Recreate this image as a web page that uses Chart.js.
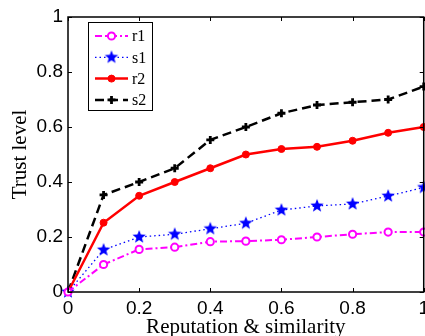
<!DOCTYPE html>
<html>
<head>
<meta charset="utf-8">
<script src="https://cdn.jsdelivr.net/npm/chart.js@4.4.1/dist/chart.umd.min.js"></script>
<style>
  html, body { margin: 0; padding: 0; background: #fff; overflow: hidden; }
  body { width: 425px; height: 336px; }
  /* plot box runs past the right and bottom edges, as in the reference */
  #wrap { width: 434px; height: 340px; position: relative; }
</style>
</head>
<body>
<div id="wrap"><canvas id="chart"></canvas></div>
<script>
// ── DATA ────────────────────────────────────────────────
const xValues = [0, 0.1, 0.2, 0.3, 0.4, 0.5, 0.6, 0.7, 0.8, 0.9, 1];
const r1 = [0, 0.10, 0.155, 0.163, 0.183, 0.185, 0.19, 0.20, 0.21, 0.218, 0.218];
const s1 = [0, 0.153, 0.20, 0.21, 0.23, 0.25, 0.298, 0.313, 0.32, 0.349, 0.38];
const r2 = [0, 0.252, 0.35, 0.40, 0.45, 0.50, 0.52, 0.528, 0.55, 0.579, 0.60];
const s2 = [0, 0.353, 0.40, 0.45, 0.553, 0.60, 0.65, 0.68, 0.69, 0.70, 0.747];
const seriesNames = ['r1', 's1', 'r2', 's2'];
const xTicks = [0, 0.2, 0.4, 0.6, 0.8, 1];
const yTicks = [0, 0.2, 0.4, 0.6, 0.8, 1];

const pts = ys => xValues.map((x, i) => ({ x, y: ys[i] }));

// filled five-point star marker
function makeStar(r, color) {
  const c = document.createElement('canvas');
  c.width = c.height = 2 * r + 2;
  const g = c.getContext('2d');
  g.fillStyle = color;
  g.beginPath();
  for (let i = 0; i < 10; i++) {
    const rad = i % 2 ? r * 0.42 : r;
    const a = -Math.PI / 2 + i * Math.PI / 5;
    g.lineTo(c.width / 2 + rad * Math.cos(a), c.height / 2 + rad * Math.sin(a));
  }
  g.closePath();
  g.fill();
  return c;
}

// ── FRAME + INWARD TICKS ────────────────────────────────
const framePlugin = {
  id: 'frame',
  afterDatasetsDraw(chart) {
    const { ctx, chartArea: a, scales: { x, y } } = chart;
    ctx.save();
    ctx.strokeStyle = '#000';
    ctx.lineWidth = 1;
    xTicks.forEach(v => {
      const px = Math.round(x.getPixelForValue(v)) + 0.5;
      ctx.beginPath();
      ctx.moveTo(px, a.bottom); ctx.lineTo(px, a.bottom - 4);
      ctx.moveTo(px, a.top); ctx.lineTo(px, a.top + 4);
      ctx.stroke();
    });
    yTicks.forEach(v => {
      const py = Math.round(y.getPixelForValue(v)) + 0.5;
      ctx.beginPath();
      ctx.moveTo(a.left, py); ctx.lineTo(a.left + 4, py);
      ctx.moveTo(a.right, py); ctx.lineTo(a.right - 4, py);
      ctx.stroke();
    });
    ctx.lineWidth = 1.5;
    ctx.strokeRect(a.left, a.top, a.right - a.left, a.bottom - a.top);
    ctx.restore();
  }
};

// ── LEGEND BOX ──────────────────────────────────────────
const legendPlugin = {
  id: 'boxLegend',
  afterDraw(chart) {
    const { ctx } = chart;
    const left = 88.5, top = 22.5, w = 64, h = 88, rowH = 21.3;
    ctx.save();
    ctx.fillStyle = '#fff';
    ctx.fillRect(left, top, w, h);
    ctx.strokeStyle = '#000';
    ctx.lineWidth = 1;
    ctx.strokeRect(left, top, w, h);
    chart.data.datasets.forEach((ds, i) => {
      const cy = 36 + i * rowH;
      ctx.save();
      ctx.strokeStyle = ds.borderColor;
      ctx.lineWidth = ds.borderWidth;
      ctx.setLineDash(ds.borderDash || []);
      ctx.beginPath();
      ctx.moveTo(95, cy); ctx.lineTo(128, cy);
      ctx.stroke();
      ctx.setLineDash([]);
      ctx.fillStyle = ds.pointBackgroundColor;
      ctx.strokeStyle = ds.borderColor;
      ctx.lineWidth = ds.pointBorderWidth;
      Chart.helpers.drawPoint(ctx, {
        pointStyle: ds.pointStyle, radius: ds.pointRadius,
        borderWidth: ds.pointBorderWidth, rotation: 0
      }, 111.5, cy);
      ctx.restore();
      ctx.fillStyle = '#000';
      ctx.font = '16px "Liberation Serif", "Times New Roman", serif';
      ctx.textBaseline = 'middle';
      ctx.fillText(ds.label, 132, cy + 1);
    });
    ctx.restore();
  }
};

const tickFont = { family: '"Liberation Sans", Arial, sans-serif', size: 19 };
const titleFont = { family: '"Liberation Serif", "Times New Roman", serif', size: 21 };

new Chart(document.getElementById('chart'), {
  type: 'line',
  data: {
    datasets: [
      {
        label: seriesNames[0], data: pts(r1),
        borderColor: '#ff00ff', borderWidth: 2, borderDash: [7, 3, 2, 3],
        pointStyle: 'circle', pointRadius: 3.6, pointBorderWidth: 2,
        pointBackgroundColor: '#fff', pointBorderColor: '#ff00ff'
      },
      {
        label: seriesNames[1], data: pts(s1),
        borderColor: '#0000ff', borderWidth: 1.3, borderDash: [1.5, 3],
        pointStyle: makeStar(7, '#0000ff'), pointRadius: 7, pointBorderWidth: 0,
        pointBackgroundColor: '#0000ff', pointBorderColor: '#0000ff'
      },
      {
        label: seriesNames[2], data: pts(r2),
        borderColor: '#ff0000', borderWidth: 2.5,
        pointStyle: 'circle', pointRadius: 3.5, pointBorderWidth: 1,
        pointBackgroundColor: '#ff0000', pointBorderColor: '#ff0000'
      },
      {
        label: seriesNames[3], data: pts(s2),
        borderColor: '#000000', borderWidth: 2.5, borderDash: [9, 5],
        pointStyle: 'cross', pointRadius: 4, pointBorderWidth: 2.8,
        pointBackgroundColor: '#000', pointBorderColor: '#000'
      }
    ].map(d => Object.assign(d, { fill: false, tension: 0, clip: false }))
  },
  options: {
    responsive: true,
    maintainAspectRatio: false,
    animation: false,
    devicePixelRatio: 1,
    layout: { padding: { top: 17, right: 0, left: 0, bottom: 0 } },
    plugins: {
      legend: { display: false },
      tooltip: { enabled: false }
    },
    scales: {
      x: {
        type: 'linear',
        min: 0, max: 1,
        afterBuildTicks: s => { s.ticks = xTicks.map(v => ({ value: v })); },
        afterFit: s => { s.height = 48; },
        ticks: {
          font: tickFont, color: '#000', padding: 5, maxRotation: 0, autoSkip: false,
          callback: v => String(v)
        },
        grid: { display: false, drawTicks: false },
        border: { display: false },
        title: {
          display: true, text: 'Reputation & similarity',
          font: titleFont, color: '#000', padding: { top: 0, bottom: -0.5 }
        }
      },
      y: {
        min: 0, max: 1,
        afterBuildTicks: s => { s.ticks = yTicks.map(v => ({ value: v })); },
        afterFit: s => { s.width = 68; },
        ticks: {
          font: tickFont, color: '#000', padding: 5, autoSkip: false,
          callback: v => String(v)
        },
        grid: { display: false, drawTicks: false },
        border: { display: false },
        title: {
          display: true, text: 'Trust level',
          font: titleFont, color: '#000', padding: { top: 8, bottom: 0 }
        }
      }
    }
  },
  plugins: [framePlugin, legendPlugin]
});
</script>
</body>
</html>
